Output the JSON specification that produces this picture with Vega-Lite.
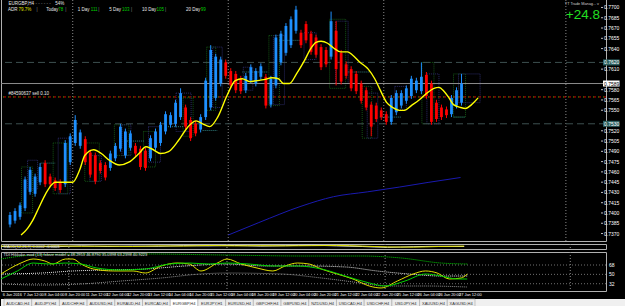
{
"$schema": "https://vega.github.io/schema/vega-lite/v6.json",
"background": "#000000",
"padding": {"top": -4, "left": 0, "right": 0, "bottom": 0},
"spacing": 1,
"config": {
 "view": {"stroke": "#b0b0b0", "strokeWidth": 1},
 "axis": {"grid": false},
 "text": {"font": "Liberation Sans"}
},
"datasets": {
 "candles": [
  {"i":0,"o":0.73832,"h":0.74014,"l":0.73790,"c":0.73972},
  {"i":1,"o":0.73888,"h":0.74070,"l":0.73846,"c":0.74028},
  {"i":2,"o":0.73944,"h":0.74154,"l":0.73902,"c":0.74112},
  {"i":3,"o":0.74070,"h":0.74532,"l":0.74028,"c":0.74490},
  {"i":4,"o":0.74308,"h":0.74672,"l":0.74266,"c":0.74630},
  {"i":5,"o":0.74280,"h":0.74574,"l":0.74238,"c":0.74532},
  {"i":6,"o":0.74448,"h":0.74728,"l":0.74406,"c":0.74672},
  {"i":7,"o":0.74728,"h":0.74770,"l":0.74378,"c":0.74420},
  {"i":8,"o":0.74532,"h":0.74574,"l":0.74378,"c":0.74420},
  {"i":9,"o":0.74476,"h":0.74518,"l":0.74322,"c":0.74364},
  {"i":10,"o":0.74448,"h":0.74490,"l":0.74294,"c":0.74336},
  {"i":11,"o":0.74420,"h":0.75064,"l":0.74378,"c":0.75022},
  {"i":12,"o":0.74742,"h":0.75162,"l":0.74700,"c":0.75120},
  {"i":13,"o":0.75022,"h":0.75428,"l":0.74980,"c":0.75358},
  {"i":14,"o":0.74980,"h":0.75218,"l":0.74938,"c":0.75176},
  {"i":15,"o":0.75078,"h":0.75120,"l":0.74700,"c":0.74742},
  {"i":16,"o":0.74882,"h":0.74924,"l":0.74518,"c":0.74560},
  {"i":17,"o":0.74840,"h":0.74882,"l":0.74420,"c":0.74462},
  {"i":18,"o":0.74728,"h":0.74770,"l":0.74574,"c":0.74616},
  {"i":19,"o":0.74700,"h":0.74742,"l":0.74476,"c":0.74518},
  {"i":20,"o":0.74658,"h":0.74910,"l":0.74616,"c":0.74868},
  {"i":21,"o":0.74798,"h":0.75022,"l":0.74756,"c":0.74980},
  {"i":22,"o":0.74938,"h":0.75302,"l":0.74896,"c":0.75260},
  {"i":23,"o":0.74840,"h":0.75232,"l":0.74798,"c":0.75190},
  {"i":24,"o":0.74952,"h":0.75204,"l":0.74910,"c":0.75162},
  {"i":25,"o":0.74980,"h":0.75022,"l":0.74826,"c":0.74868},
  {"i":26,"o":0.74938,"h":0.74980,"l":0.74630,"c":0.74672},
  {"i":27,"o":0.74910,"h":0.74952,"l":0.74616,"c":0.74658},
  {"i":28,"o":0.74798,"h":0.75134,"l":0.74756,"c":0.75092},
  {"i":29,"o":0.74952,"h":0.75232,"l":0.74910,"c":0.75190},
  {"i":30,"o":0.75022,"h":0.75330,"l":0.74980,"c":0.75288},
  {"i":31,"o":0.75190,"h":0.75484,"l":0.75148,"c":0.75442},
  {"i":32,"o":0.75288,"h":0.75470,"l":0.75246,"c":0.75428},
  {"i":33,"o":0.75302,"h":0.75652,"l":0.75260,"c":0.75610},
  {"i":34,"o":0.75400,"h":0.75820,"l":0.75358,"c":0.75750},
  {"i":35,"o":0.75540,"h":0.75582,"l":0.75218,"c":0.75260},
  {"i":36,"o":0.75358,"h":0.75400,"l":0.75050,"c":0.75092},
  {"i":37,"o":0.75302,"h":0.75344,"l":0.75120,"c":0.75162},
  {"i":38,"o":0.75218,"h":0.75442,"l":0.75176,"c":0.75400},
  {"i":39,"o":0.75400,"h":0.75974,"l":0.75358,"c":0.75932},
  {"i":40,"o":0.75540,"h":0.76450,"l":0.75498,"c":0.76380},
  {"i":41,"o":0.75680,"h":0.76324,"l":0.75638,"c":0.76282},
  {"i":42,"o":0.75890,"h":0.76282,"l":0.75848,"c":0.76240},
  {"i":43,"o":0.76198,"h":0.76240,"l":0.75960,"c":0.76002},
  {"i":44,"o":0.76072,"h":0.76114,"l":0.75820,"c":0.75862},
  {"i":45,"o":0.76030,"h":0.76072,"l":0.75750,"c":0.75792},
  {"i":46,"o":0.75960,"h":0.76002,"l":0.75736,"c":0.75778},
  {"i":47,"o":0.75792,"h":0.76044,"l":0.75750,"c":0.76002},
  {"i":48,"o":0.75932,"h":0.76170,"l":0.75890,"c":0.76128},
  {"i":49,"o":0.75890,"h":0.76114,"l":0.75848,"c":0.76072},
  {"i":50,"o":0.75988,"h":0.76184,"l":0.75946,"c":0.76142},
  {"i":51,"o":0.75988,"h":0.76030,"l":0.75526,"c":0.75568},
  {"i":52,"o":0.75582,"h":0.76002,"l":0.75540,"c":0.75960},
  {"i":53,"o":0.75862,"h":0.76604,"l":0.75820,"c":0.76562},
  {"i":54,"o":0.76198,"h":0.76660,"l":0.76156,"c":0.76618},
  {"i":55,"o":0.76338,"h":0.76772,"l":0.76296,"c":0.76730},
  {"i":56,"o":0.76450,"h":0.76870,"l":0.76408,"c":0.76828},
  {"i":57,"o":0.76660,"h":0.77024,"l":0.76618,"c":0.76968},
  {"i":58,"o":0.76632,"h":0.76674,"l":0.76408,"c":0.76450},
  {"i":59,"o":0.76758,"h":0.76800,"l":0.76478,"c":0.76520},
  {"i":60,"o":0.76618,"h":0.76660,"l":0.76310,"c":0.76352},
  {"i":61,"o":0.76562,"h":0.76604,"l":0.76268,"c":0.76310},
  {"i":62,"o":0.76422,"h":0.76464,"l":0.76086,"c":0.76128},
  {"i":63,"o":0.76380,"h":0.76422,"l":0.76128,"c":0.76170},
  {"i":64,"o":0.76282,"h":0.76940,"l":0.76240,"c":0.76800},
  {"i":65,"o":0.76660,"h":0.76800,"l":0.75862,"c":0.76100},
  {"i":66,"o":0.76338,"h":0.76380,"l":0.75876,"c":0.75918},
  {"i":67,"o":0.76170,"h":0.76212,"l":0.75960,"c":0.76002},
  {"i":68,"o":0.76100,"h":0.76142,"l":0.75778,"c":0.75820},
  {"i":69,"o":0.76030,"h":0.76072,"l":0.75736,"c":0.75778},
  {"i":70,"o":0.75890,"h":0.75932,"l":0.75596,"c":0.75638},
  {"i":71,"o":0.75792,"h":0.75834,"l":0.75498,"c":0.75540},
  {"i":72,"o":0.75582,"h":0.75624,"l":0.75120,"c":0.75260},
  {"i":73,"o":0.75568,"h":0.75610,"l":0.75330,"c":0.75372},
  {"i":74,"o":0.75498,"h":0.75540,"l":0.75358,"c":0.75400},
  {"i":75,"o":0.75442,"h":0.75484,"l":0.75288,"c":0.75330},
  {"i":76,"o":0.75330,"h":0.75722,"l":0.75288,"c":0.75680},
  {"i":77,"o":0.75470,"h":0.75792,"l":0.75428,"c":0.75750},
  {"i":78,"o":0.75568,"h":0.75792,"l":0.75526,"c":0.75750},
  {"i":79,"o":0.75638,"h":0.75862,"l":0.75596,"c":0.75820},
  {"i":80,"o":0.75708,"h":0.76002,"l":0.75666,"c":0.75960},
  {"i":81,"o":0.75792,"h":0.75974,"l":0.75750,"c":0.75932},
  {"i":82,"o":0.75778,"h":0.76198,"l":0.75736,"c":0.75988},
  {"i":83,"o":0.76016,"h":0.76058,"l":0.75666,"c":0.75708},
  {"i":84,"o":0.75890,"h":0.75932,"l":0.75288,"c":0.75330},
  {"i":85,"o":0.75610,"h":0.75652,"l":0.75330,"c":0.75372},
  {"i":86,"o":0.75540,"h":0.75582,"l":0.75358,"c":0.75400},
  {"i":87,"o":0.75512,"h":0.75554,"l":0.75386,"c":0.75428},
  {"i":88,"o":0.75442,"h":0.75722,"l":0.75400,"c":0.75680},
  {"i":89,"o":0.75568,"h":0.75834,"l":0.75526,"c":0.75792},
  {"i":90,"o":0.75610,"h":0.76030,"l":0.75568,"c":0.75890}
 ],
 "ma": [
  {"i":2.2,"p":0.73678},{"i":3.5,"p":0.73776},{"i":4.5,"p":0.73888},{"i":5.7,"p":0.74070},{"i":7.1,"p":0.74280},
  {"i":8.4,"p":0.74420},{"i":9.0,"p":0.74448},{"i":12.5,"p":0.74448},{"i":13.9,"p":0.74630},{"i":14.9,"p":0.74840},
  {"i":16.7,"p":0.74924},{"i":18.2,"p":0.74868},{"i":19.8,"p":0.74770},{"i":21.8,"p":0.74700},{"i":23.7,"p":0.74742},
  {"i":25.7,"p":0.74868},{"i":27.1,"p":0.74966},{"i":28.2,"p":0.74938},{"i":30.0,"p":0.74868},{"i":31.6,"p":0.74896},
  {"i":33.5,"p":0.75050},{"i":35.5,"p":0.75260},{"i":37.1,"p":0.75344},{"i":38.4,"p":0.75302},{"i":39.8,"p":0.75260},
  {"i":41.4,"p":0.75400},{"i":43.3,"p":0.75722},{"i":44.9,"p":0.75932},{"i":46.3,"p":0.75960},{"i":47.8,"p":0.75918},
  {"i":49.2,"p":0.75932},{"i":50.6,"p":0.75946},{"i":52.2,"p":0.75974},{"i":53.5,"p":0.75960},{"i":54.5,"p":0.75890},
  {"i":55.7,"p":0.75890},{"i":57.1,"p":0.76030},{"i":58.6,"p":0.76212},{"i":60.0,"p":0.76408},{"i":61.0,"p":0.76492},
  {"i":62.0,"p":0.76506},{"i":63.3,"p":0.76478},{"i":64.5,"p":0.76408},{"i":65.9,"p":0.76352},{"i":67.3,"p":0.76352},
  {"i":68.2,"p":0.76310},{"i":69.8,"p":0.76198},{"i":71.4,"p":0.76100},{"i":72.7,"p":0.75960},{"i":73.9,"p":0.75778},
  {"i":75.1,"p":0.75610},{"i":76.3,"p":0.75540},{"i":77.6,"p":0.75498},{"i":78.6,"p":0.75498},{"i":80.0,"p":0.75568},
  {"i":81.6,"p":0.75652},{"i":83.1,"p":0.75750},{"i":84.5,"p":0.75820},{"i":85.5,"p":0.75834},{"i":86.5,"p":0.75778},
  {"i":87.5,"p":0.75680},{"i":88.4,"p":0.75582},{"i":89.8,"p":0.75540},{"i":90.8,"p":0.75526},{"i":92.0,"p":0.75582},
  {"i":93.3,"p":0.75680}
 ],
 "slow": [
  {"i":43.5,"p":0.73678},{"i":49.6,"p":0.73860},{"i":58.0,"p":0.74098},{"i":64.5,"p":0.74238},
  {"i":71.2,"p":0.74308},{"i":77.6,"p":0.74378},{"i":83.5,"p":0.74448},{"i":89.8,"p":0.74518}
 ],
 "boxes": [
  {"i1":2.3,"i2":4.5,"p1":0.74672,"p2":0.74000,"k":"g"},
  {"i1":3.5,"i2":5.5,"p1":0.74770,"p2":0.74350,"k":"n"},
  {"i1":8.6,"i2":11.5,"p1":0.75022,"p2":0.74280,"k":"g"},
  {"i1":9.6,"i2":12.0,"p1":0.75092,"p2":0.74280,"k":"n"},
  {"i1":14.9,"i2":17.8,"p1":0.75022,"p2":0.74462,"k":"g"},
  {"i1":15.9,"i2":18.2,"p1":0.74840,"p2":0.74462,"k":"n"},
  {"i1":20.8,"i2":23.7,"p1":0.75288,"p2":0.74840,"k":"g"},
  {"i1":22.3,"i2":24.1,"p1":0.75288,"p2":0.74840,"k":"n"},
  {"i1":26.6,"i2":29.0,"p1":0.75190,"p2":0.74672,"k":"g"},
  {"i1":27.6,"i2":30.0,"p1":0.75260,"p2":0.74742,"k":"n"},
  {"i1":33.1,"i2":36.1,"p1":0.75750,"p2":0.75190,"k":"n"},
  {"i1":34.5,"i2":36.5,"p1":0.75680,"p2":0.75120,"k":"g"},
  {"i1":39.2,"i2":41.0,"p1":0.76422,"p2":0.75498,"k":"g"},
  {"i1":40.4,"i2":42.3,"p1":0.76422,"p2":0.75540,"k":"n"},
  {"i1":46.5,"i2":48.4,"p1":0.76128,"p2":0.75792,"k":"n"},
  {"i1":51.6,"i2":53.7,"p1":0.76590,"p2":0.75568,"k":"g"},
  {"i1":52.5,"i2":54.7,"p1":0.76590,"p2":0.75582,"k":"n"},
  {"i1":58.6,"i2":61.0,"p1":0.76632,"p2":0.76240,"k":"n"},
  {"i1":63.7,"i2":66.9,"p1":0.76828,"p2":0.75820,"k":"g"},
  {"i1":64.9,"i2":67.4,"p1":0.76800,"p2":0.75890,"k":"n"},
  {"i1":70.2,"i2":72.1,"p1":0.75848,"p2":0.75092,"k":"g"},
  {"i1":71.2,"i2":73.3,"p1":0.75750,"p2":0.75092,"k":"n"},
  {"i1":76.7,"i2":79.0,"p1":0.75848,"p2":0.75512,"k":"n"},
  {"i1":82.1,"i2":84.5,"p1":0.76198,"p2":0.75302,"k":"g"},
  {"i1":83.1,"i2":85.5,"p1":0.76030,"p2":0.75302,"k":"n"},
  {"i1":88.4,"i2":90.8,"p1":0.76030,"p2":0.75400,"k":"g"},
  {"i1":89.4,"i2":93.7,"p1":0.76030,"p2":0.75610,"k":"n"}
 ],
 "segs": [
  {"i1":6.1,"i2":9.0,"p":0.74728},{"i1":23.3,"i2":26.7,"p":0.75050},{"i1":31.5,"i2":34.5,"p":0.75260},
  {"i1":38.4,"i2":41.3,"p":0.75204},{"i1":46.3,"i2":51.5,"p":0.76058},{"i1":53.7,"i2":58.0,"p":0.76520},
  {"i1":66.9,"i2":71.8,"p":0.76058},{"i1":73.7,"i2":78.0,"p":0.75400},{"i1":88.4,"i2":90.8,"p":0.75400}
 ],
 "seps": [{"i":12.5},{"i":43.5},{"i":74.5},{"i":110.8}],
 "yticks": [
  {"p":0.7700,"t":"0.7700"},{"p":0.7685,"t":"0.7685"},{"p":0.7670,"t":"0.7670"},{"p":0.7655,"t":"0.7655"},
  {"p":0.7640,"t":"0.7640"},{"p":0.7610,"t":"0.7610"},
  {"p":0.7580,"t":"0.7580"},{"p":0.7565,"t":"0.7565"},{"p":0.7550,"t":"0.7550"},
  {"p":0.7520,"t":"0.7520"},{"p":0.7505,"t":"0.7505"},{"p":0.7490,"t":"0.7490"},{"p":0.7475,"t":"0.7475"},
  {"p":0.7460,"t":"0.7460"},{"p":0.7445,"t":"0.7445"},{"p":0.7430,"t":"0.7430"},{"p":0.7415,"t":"0.7415"},
  {"p":0.7400,"t":"0.7400"},{"p":0.7385,"t":"0.7385"},{"p":0.7370,"t":"0.7370"}
 ],
 "xticks": [
  {"i":-0.47,"t":"6 Jan 2016"},{"i":3.6,"t":"7 Jan 12:00"},{"i":7.66,"t":"8 Jan 04:00"},{"i":11.73,"t":"8 Jan 20:00"},
  {"i":15.8,"t":"11 Jan 12:00"},{"i":19.87,"t":"12 Jan 04:00"},{"i":23.93,"t":"12 Jan 20:00"},{"i":28.0,"t":"13 Jan 12:00"},
  {"i":32.07,"t":"14 Jan 04:00"},{"i":36.13,"t":"14 Jan 20:00"},{"i":40.2,"t":"15 Jan 12:00"},{"i":44.27,"t":"18 Jan 04:00"},
  {"i":48.33,"t":"18 Jan 20:00"},{"i":52.4,"t":"19 Jan 12:00"},{"i":56.47,"t":"20 Jan 04:00"},{"i":60.54,"t":"20 Jan 20:00"},
  {"i":64.6,"t":"21 Jan 12:00"},{"i":68.67,"t":"22 Jan 04:00"},{"i":72.74,"t":"22 Jan 20:00"},{"i":76.8,"t":"25 Jan 12:00"},
  {"i":80.87,"t":"26 Jan 04:00"},{"i":84.94,"t":"26 Jan 20:00"},{"i":89.0,"t":"27 Jan 12:00"}
 ],
 "hdr": [
  {"i":-0.3,"p":0.77045,"t":"EURGBP,H4","k":"w"},
  {"i":5.1,"p":0.77045,"t":"- - - - - -","k":"d"},
  {"i":9.0,"p":0.77045,"t":"54%","k":"w"},
  {"i":-0.4,"p":0.76961,"t":"ADR","k":"w"},
  {"i":1.7,"p":0.76961,"t":"79.7%","k":"y"},
  {"i":5.3,"p":0.76961,"t":"|","k":"d"},
  {"i":7.2,"p":0.76961,"t":"Today","k":"w"},
  {"i":9.6,"p":0.76961,"t":"78","k":"g"},
  {"i":11.0,"p":0.76961,"t":"|","k":"d"},
  {"i":13.5,"p":0.76961,"t":"1 Day","k":"w"},
  {"i":16.1,"p":0.76961,"t":"111","k":"g"},
  {"i":17.6,"p":0.76961,"t":"|","k":"d"},
  {"i":19.8,"p":0.76961,"t":"5 Day","k":"w"},
  {"i":22.3,"p":0.76961,"t":"103","k":"g"},
  {"i":24.1,"p":0.76961,"t":"|","k":"d"},
  {"i":26.3,"p":0.76961,"t":"10 Day","k":"w"},
  {"i":29.2,"p":0.76961,"t":"105","k":"g"},
  {"i":30.9,"p":0.76961,"t":"|","k":"d"},
  {"i":35.1,"p":0.76961,"t":"20 Day","k":"w"},
  {"i":38.0,"p":0.76961,"t":"99","k":"g"},
  {"i":-0.3,"p":0.75736,"t":"#84590637 sell 0.10","k":"w"}
 ],
 "tags": [
  {"p":0.76198,"t":"0.7620","k":"lvl"},
  {"p":0.75890,"t":"0.7589","k":"bid"},
  {"p":0.75302,"t":"0.7530","k":"lvl"}
 ],
 "macd": [
  {"i":-0.8,"v":0.2,"s":"a"},{"i":5,"v":0.4,"s":"a"},{"i":10,"v":0.1,"s":"a"},{"i":15,"v":0.5,"s":"a"},{"i":20,"v":0.2,"s":"a"},
  {"i":25,"v":0.4,"s":"a"},{"i":30,"v":0.3,"s":"a"},{"i":35,"v":0.6,"s":"a"},{"i":40,"v":0.5,"s":"a"},{"i":45,"v":0.7,"s":"a"},
  {"i":50,"v":0.4,"s":"a"},{"i":55,"v":0.6,"s":"a"},{"i":60,"v":0.8,"s":"a"},{"i":65,"v":0.5,"s":"a"},{"i":70,"v":0.2,"s":"a"},
  {"i":75,"v":-0.2,"s":"a"},{"i":80,"v":0.1,"s":"a"},{"i":85,"v":0.3,"s":"a"},{"i":90,"v":0.2,"s":"a"},
  {"i":-0.8,"v":0.4,"s":"b"},{"i":5,"v":0.2,"s":"b"},{"i":10,"v":0.5,"s":"b"},{"i":15,"v":0.3,"s":"b"},{"i":20,"v":0.4,"s":"b"},
  {"i":25,"v":0.2,"s":"b"},{"i":30,"v":0.5,"s":"b"},{"i":35,"v":0.4,"s":"b"},{"i":40,"v":0.7,"s":"b"},{"i":45,"v":0.5,"s":"b"},
  {"i":50,"v":0.6,"s":"b"},{"i":55,"v":0.5,"s":"b"},{"i":60,"v":0.6,"s":"b"},{"i":65,"v":0.7,"s":"b"},{"i":70,"v":0.4,"s":"b"},
  {"i":75,"v":0.0,"s":"b"},{"i":80,"v":-0.1,"s":"b"},{"i":85,"v":0.2,"s":"b"},{"i":90,"v":0.4,"s":"b"}
 ],
 "tdi": [
  {"i":-0.8,"v":50.7,"s":"rsi"},{"i":3.1,"v":71.8,"s":"rsi"},{"i":5.5,"v":79.5,"s":"rsi"},{"i":7.8,"v":75.7,"s":"rsi"},
  {"i":9.4,"v":69.9,"s":"rsi"},{"i":11.8,"v":79.5,"s":"rsi"},{"i":13.3,"v":79.5,"s":"rsi"},{"i":14.9,"v":69.9,"s":"rsi"},
  {"i":17.3,"v":60.3,"s":"rsi"},{"i":21.2,"v":56.5,"s":"rsi"},{"i":25.1,"v":56.5,"s":"rsi"},{"i":27.5,"v":52.6,"s":"rsi"},
  {"i":30.6,"v":66.1,"s":"rsi"},{"i":33.7,"v":71.8,"s":"rsi"},{"i":36.1,"v":69.9,"s":"rsi"},{"i":38.4,"v":56.5,"s":"rsi"},
  {"i":41.6,"v":71.8,"s":"rsi"},{"i":43.5,"v":79.5,"s":"rsi"},{"i":46.3,"v":69.9,"s":"rsi"},{"i":49.4,"v":62.2,"s":"rsi"},
  {"i":52.5,"v":56.5,"s":"rsi"},{"i":54.9,"v":66.1,"s":"rsi"},{"i":57.3,"v":71.8,"s":"rsi"},{"i":59.6,"v":69.9,"s":"rsi"},
  {"i":62.0,"v":60.3,"s":"rsi"},{"i":65.1,"v":50.7,"s":"rsi"},{"i":68.2,"v":41.1,"s":"rsi"},{"i":71.4,"v":27.6,"s":"rsi"},
  {"i":73.7,"v":23.8,"s":"rsi"},{"i":76.9,"v":37.2,"s":"rsi"},{"i":80.0,"v":50.7,"s":"rsi"},{"i":82.4,"v":56.5,"s":"rsi"},
  {"i":84.7,"v":52.6,"s":"rsi"},{"i":87.1,"v":41.1,"s":"rsi"},{"i":89.4,"v":43.0,"s":"rsi"},{"i":90.6,"v":50.7,"s":"rsi"},
  {"i":-0.8,"v":41.1,"s":"sig"},{"i":2.4,"v":56.5,"s":"sig"},{"i":5.5,"v":71.8,"s":"sig"},{"i":8.6,"v":69.9,"s":"sig"},
  {"i":11.8,"v":71.8,"s":"sig"},{"i":14.9,"v":69.9,"s":"sig"},{"i":18.0,"v":62.2,"s":"sig"},{"i":22.7,"v":58.4,"s":"sig"},
  {"i":27.5,"v":60.3,"s":"sig"},{"i":32.2,"v":69.9,"s":"sig"},{"i":36.1,"v":71.8,"s":"sig"},{"i":40.0,"v":69.9,"s":"sig"},
  {"i":43.5,"v":71.8,"s":"sig"},{"i":47.8,"v":69.9,"s":"sig"},{"i":52.5,"v":66.1,"s":"sig"},{"i":57.3,"v":66.1,"s":"sig"},
  {"i":62.0,"v":60.3,"s":"sig"},{"i":66.7,"v":46.8,"s":"sig"},{"i":71.4,"v":33.4,"s":"sig"},{"i":74.5,"v":27.6,"s":"sig"},
  {"i":78.4,"v":37.2,"s":"sig"},{"i":82.4,"v":50.7,"s":"sig"},{"i":85.5,"v":46.8,"s":"sig"},{"i":88.6,"v":41.1,"s":"sig"},
  {"i":90.6,"v":41.1,"s":"sig"},
  {"i":-0.8,"v":50.7,"s":"base"},{"i":7.1,"v":52.6,"s":"base"},{"i":13.3,"v":56.5,"s":"base"},{"i":19.6,"v":58.4,"s":"base"},
  {"i":27.5,"v":60.3,"s":"base"},{"i":35.3,"v":66.1,"s":"base"},{"i":43.1,"v":69.9,"s":"base"},{"i":51.0,"v":66.1,"s":"base"},
  {"i":58.8,"v":66.1,"s":"base"},{"i":66.7,"v":64.2,"s":"base"},{"i":72.9,"v":56.5,"s":"base"},{"i":79.2,"v":50.7,"s":"base"},
  {"i":85.5,"v":46.8,"s":"base"},{"i":90.6,"v":46.8,"s":"base"},
  {"i":-0.8,"v":79.5,"s":"up"},{"i":5.5,"v":87.2,"s":"up"},{"i":14.9,"v":89.2,"s":"up"},{"i":27.5,"v":89.2,"s":"up"},
  {"i":43.1,"v":87.2,"s":"up"},{"i":58.8,"v":85.3,"s":"up"},{"i":69.8,"v":85.3,"s":"up"},{"i":77.6,"v":81.5,"s":"up"},
  {"i":85.5,"v":71.8,"s":"up"},{"i":90.6,"v":69.9,"s":"up"},
  {"i":-0.8,"v":31.5,"s":"lo"},{"i":7.1,"v":29.5,"s":"lo"},{"i":14.9,"v":31.5,"s":"lo"},{"i":22.7,"v":37.2,"s":"lo"},
  {"i":30.6,"v":43.0,"s":"lo"},{"i":38.4,"v":50.7,"s":"lo"},{"i":43.5,"v":52.6,"s":"lo"},{"i":54.1,"v":50.7,"s":"lo"},
  {"i":62.0,"v":43.0,"s":"lo"},{"i":69.8,"v":33.4,"s":"lo"},{"i":74.5,"v":27.6,"s":"lo"},{"i":82.4,"v":27.6,"s":"lo"},
  {"i":90.6,"v":25.7,"s":"lo"}
 ],
 "tabs": [
  {"name":"AUDCAD,H4"},{"name":"AUDJPY,H4"},{"name":"AUDCHF,H4"},{"name":"AUDUSD,H4"},{"name":"EURAUD,H4"},
  {"name":"EURCAD,H4"},{"name":"EURGBP,H4"},{"name":"EURJPY,H1"},{"name":"EURUSD,H4"},{"name":"GBPCHF,H4"},
  {"name":"GBPUSD,H4"},{"name":"NZDUSD,H4"},{"name":"USDCAD,H4"},{"name":"USDCHF,H4"},{"name":"USDJPY,H4"},
  {"name":"XAUUSD,H4"},{"name":"XAGUSD,H4"}
 ]
},
"vconcat": [
 {
  "width": 605,
  "height": 244,
  "layer": [
   {
    "data": {"name": "boxes"},
    "mark": {"type": "rect", "filled": false, "strokeDash": [1, 1], "strokeWidth": 1, "clip": true},
    "encoding": {
     "x": {"field": "i1", "type": "quantitative", "scale": {"domain": [-0.8, 117.8], "nice": false, "zero": false}, "axis": null},
     "x2": {"field": "i2"},
     "y": {"field": "p1", "type": "quantitative", "scale": {"domain": [0.73664, 0.7708], "nice": false, "zero": false}, "axis": null},
     "y2": {"field": "p2"},
     "stroke": {"field": "k", "type": "nominal", "scale": {"domain": ["g", "n"], "range": ["#145214", "#2a2a66"]}, "legend": null}
    }
   },
   {
    "data": {"name": "segs"},
    "mark": {"type": "rule", "color": "#2e7a7a", "strokeDash": [1, 1], "strokeWidth": 1},
    "encoding": {
     "x": {"field": "i1", "type": "quantitative", "scale": {"domain": [-0.8, 117.8], "nice": false, "zero": false}, "axis": null},
     "x2": {"field": "i2"},
     "y": {"field": "p", "type": "quantitative", "scale": {"domain": [0.73664, 0.7708], "nice": false, "zero": false}, "axis": null}
    }
   },
   {
    "data": {"name": "seps"},
    "mark": {"type": "rule", "color": "#8a8a8a", "strokeDash": [1, 2], "strokeWidth": 1},
    "encoding": {
     "x": {"field": "i", "type": "quantitative", "scale": {"domain": [-0.8, 117.8], "nice": false, "zero": false}, "axis": null}
    }
   },
   {
    "data": {"values": [{"p": 0.76198}, {"p": 0.75302}]},
    "mark": {"type": "rule", "color": "#3d5050", "strokeDash": [7, 4], "strokeWidth": 1},
    "encoding": {
     "y": {"field": "p", "type": "quantitative", "scale": {"domain": [0.73664, 0.7708], "nice": false, "zero": false}, "axis": null}
    }
   },
   {
    "data": {"values": [{"p": 0.75890}]},
    "mark": {"type": "rule", "color": "#8c8c8c", "strokeWidth": 1},
    "encoding": {
     "y": {"field": "p", "type": "quantitative", "scale": {"domain": [0.73664, 0.7708], "nice": false, "zero": false}, "axis": null}
    }
   },
   {
    "data": {"values": [{"p": 0.75694}]},
    "mark": {"type": "rule", "color": "#d00000", "strokeDash": [3, 2], "strokeWidth": 1},
    "encoding": {
     "y": {"field": "p", "type": "quantitative", "scale": {"domain": [0.73664, 0.7708], "nice": false, "zero": false}, "axis": null}
    }
   },
   {
    "data": {"values": [{"p": 0.75694}]},
    "mark": {"type": "rule", "color": "#00a000", "strokeDash": [1, 4], "strokeDashOffset": 3, "strokeWidth": 1},
    "encoding": {
     "y": {"field": "p", "type": "quantitative", "scale": {"domain": [0.73664, 0.7708], "nice": false, "zero": false}, "axis": null}
    }
   },
   {
    "data": {"name": "slow"},
    "mark": {"type": "line", "color": "#1a1ab0", "strokeWidth": 1, "clip": true, "interpolate": "monotone"},
    "encoding": {
     "x": {"field": "i", "type": "quantitative", "scale": {"domain": [-0.8, 117.8], "nice": false, "zero": false}, "axis": null},
     "y": {"field": "p", "type": "quantitative", "scale": {"domain": [0.73664, 0.7708], "nice": false, "zero": false}, "axis": null}
    }
   },
   {
    "data": {"name": "candles"},
    "mark": {"type": "rule", "strokeWidth": 1},
    "encoding": {
     "x": {"field": "i", "type": "quantitative", "scale": {"domain": [-0.8, 117.8], "nice": false, "zero": false}, "axis": null},
     "y": {"field": "l", "type": "quantitative", "scale": {"domain": [0.73664, 0.7708], "nice": false, "zero": false}, "axis": null},
     "y2": {"field": "h"},
     "color": {"condition": {"test": "datum.c >= datum.o", "value": "#1e90ff"}, "value": "#ff0000"}
    }
   },
   {
    "data": {"name": "candles"},
    "mark": {"type": "bar", "size": 2.8},
    "encoding": {
     "x": {"field": "i", "type": "quantitative", "scale": {"domain": [-0.8, 117.8], "nice": false, "zero": false}, "axis": null},
     "y": {"field": "o", "type": "quantitative", "scale": {"domain": [0.73664, 0.7708], "nice": false, "zero": false}, "axis": null},
     "y2": {"field": "c"},
     "color": {"condition": {"test": "datum.c >= datum.o", "value": "#1e90ff"}, "value": "#ff0000"}
    }
   },
   {
    "data": {"name": "ma"},
    "mark": {"type": "line", "color": "#ffff00", "strokeWidth": 1.4, "clip": true, "interpolate": "monotone"},
    "encoding": {
     "x": {"field": "i", "type": "quantitative", "scale": {"domain": [-0.8, 117.8], "nice": false, "zero": false}, "axis": null},
     "y": {"field": "p", "type": "quantitative", "scale": {"domain": [0.73664, 0.7708], "nice": false, "zero": false}, "axis": null}
    }
   },
   {
    "data": {"name": "hdr"},
    "mark": {"type": "text", "align": "left", "baseline": "middle", "fontSize": 4.5},
    "encoding": {
     "x": {"field": "i", "type": "quantitative", "scale": {"domain": [-0.8, 117.8], "nice": false, "zero": false}, "axis": null},
     "y": {"field": "p", "type": "quantitative", "scale": {"domain": [0.73664, 0.7708], "nice": false, "zero": false}, "axis": null},
     "text": {"field": "t"},
     "color": {"field": "k", "type": "nominal", "scale": {"domain": ["w", "y", "g", "d"], "range": ["#e8e8e8", "#e0e000", "#00d000", "#909090"]}, "legend": null}
    }
   },
   {
    "data": {"values": [{"i": 117.6, "p": 0.76891, "t": "+24.8"}]},
    "mark": {"type": "text", "align": "right", "baseline": "middle", "fontSize": 13.5, "color": "#22e022"},
    "encoding": {
     "x": {"field": "i", "type": "quantitative", "scale": {"domain": [-0.8, 117.8], "nice": false, "zero": false}, "axis": null},
     "y": {"field": "p", "type": "quantitative", "scale": {"domain": [0.73664, 0.7708], "nice": false, "zero": false}, "axis": null},
     "text": {"field": "t"}
    }
   },
   {
    "data": {"values": [{"i": 117.4, "p": 0.77045, "t": "TT Trade Manag... v"}]},
    "mark": {"type": "text", "align": "right", "baseline": "middle", "fontSize": 3.8, "color": "#d0d0d0"},
    "encoding": {
     "x": {"field": "i", "type": "quantitative", "scale": {"domain": [-0.8, 117.8], "nice": false, "zero": false}, "axis": null},
     "y": {"field": "p", "type": "quantitative", "scale": {"domain": [0.73664, 0.7708], "nice": false, "zero": false}, "axis": null},
     "text": {"field": "t"}
    }
   },
   {
    "data": {"name": "yticks"},
    "mark": {"type": "rule", "color": "#c0c0c0", "strokeWidth": 1},
    "encoding": {
     "x": {"datum": 117.8, "type": "quantitative", "scale": {"domain": [-0.8, 117.8], "nice": false, "zero": false}, "axis": null},
     "x2": {"datum": 118.2},
     "y": {"field": "p", "type": "quantitative", "scale": {"domain": [0.73664, 0.7708], "nice": false, "zero": false}, "axis": null}
    }
   },
   {
    "data": {"name": "yticks"},
    "mark": {"type": "text", "align": "left", "baseline": "middle", "fontSize": 5, "color": "#ffffff"},
    "encoding": {
     "x": {"datum": 118.4, "type": "quantitative", "scale": {"domain": [-0.8, 117.8], "nice": false, "zero": false}, "axis": null},
     "y": {"field": "p", "type": "quantitative", "scale": {"domain": [0.73664, 0.7708], "nice": false, "zero": false}, "axis": null},
     "text": {"field": "t"}
    }
   },
   {
    "data": {"name": "tags"},
    "mark": {"type": "bar", "size": 6},
    "encoding": {
     "x": {"datum": 118.2, "type": "quantitative", "scale": {"domain": [-0.8, 117.8], "nice": false, "zero": false}, "axis": null},
     "x2": {"datum": 121.5},
     "y": {"field": "p", "type": "quantitative", "scale": {"domain": [0.73664, 0.7708], "nice": false, "zero": false}, "axis": null},
     "color": {"condition": {"test": "datum.k === 'bid'", "value": "#ffffff"}, "value": "#2f6262"}
    }
   },
   {
    "data": {"name": "tags"},
    "mark": {"type": "text", "align": "left", "baseline": "middle", "fontSize": 5},
    "encoding": {
     "x": {"datum": 118.4, "type": "quantitative", "scale": {"domain": [-0.8, 117.8], "nice": false, "zero": false}, "axis": null},
     "y": {"field": "p", "type": "quantitative", "scale": {"domain": [0.73664, 0.7708], "nice": false, "zero": false}, "axis": null},
     "text": {"field": "t"},
     "color": {"condition": {"test": "datum.k === 'bid'", "value": "#000000"}, "value": "#ffffff"}
    }
   }
  ]
 },
 {
  "width": 605,
  "height": 5,
  "layer": [
   {
    "data": {"name": "seps"},
    "mark": {"type": "rule", "color": "#8a8a8a", "strokeDash": [1, 2], "strokeWidth": 1},
    "encoding": {
     "x": {"field": "i", "type": "quantitative", "scale": {"domain": [-0.8, 117.8], "nice": false, "zero": false}, "axis": null}
    }
   },
   {
    "data": {"name": "macd"},
    "mark": {"type": "line", "strokeWidth": 1, "interpolate": "monotone", "clip": true},
    "encoding": {
     "x": {"field": "i", "type": "quantitative", "scale": {"domain": [-0.8, 117.8], "nice": false, "zero": false}, "axis": null},
     "y": {"field": "v", "type": "quantitative", "scale": {"domain": [-1, 1.4], "nice": false, "zero": false}, "axis": null},
     "color": {"field": "s", "type": "nominal", "scale": {"domain": ["a", "b"], "range": ["#1fa5a5", "#b01010"]}, "legend": null}
    }
   },
   {
    "data": {"values": [{"i": -0.3, "v": 0.2, "t": "MACD(12,26,9) 0.0002 -0.0003"}]},
    "mark": {"type": "text", "align": "left", "baseline": "middle", "fontSize": 4, "color": "#e8e8e8"},
    "encoding": {
     "x": {"field": "i", "type": "quantitative", "scale": {"domain": [-0.8, 117.8], "nice": false, "zero": false}, "axis": null},
     "y": {"field": "v", "type": "quantitative", "scale": {"domain": [-1, 1.4], "nice": false, "zero": false}, "axis": null},
     "text": {"field": "t"}
    }
   }
  ]
 },
 {
  "width": 605,
  "height": 39,
  "layer": [
   {
    "data": {"values": [{"v": 68}, {"v": 50}, {"v": 32}]},
    "mark": {"type": "rule", "color": "#707070", "strokeDash": [1, 2], "strokeWidth": 1},
    "encoding": {
     "y": {"field": "v", "type": "quantitative", "scale": {"domain": [18, 93], "nice": false, "zero": false}, "axis": null}
    }
   },
   {
    "data": {"values": [{"v": 68, "t": "68"}, {"v": 50, "t": "50"}, {"v": 32, "t": "32"}]},
    "mark": {"type": "text", "align": "left", "baseline": "middle", "fontSize": 5, "color": "#ffffff"},
    "encoding": {
     "x": {"datum": 118.4, "type": "quantitative", "scale": {"domain": [-0.8, 117.8], "nice": false, "zero": false}, "axis": null},
     "y": {"field": "v", "type": "quantitative", "scale": {"domain": [18, 93], "nice": false, "zero": false}, "axis": null},
     "text": {"field": "t"}
    }
   },
   {
    "data": {"name": "seps"},
    "mark": {"type": "rule", "color": "#8a8a8a", "strokeDash": [1, 2], "strokeWidth": 1},
    "encoding": {
     "x": {"field": "i", "type": "quantitative", "scale": {"domain": [-0.8, 117.8], "nice": false, "zero": false}, "axis": null}
    }
   },
   {
    "data": {"name": "tdi"},
    "transform": [{"filter": "datum.s === 'up' || datum.s === 'lo' || datum.s === 'base'"}],
    "mark": {"type": "line", "strokeWidth": 1, "strokeDash": [1, 1], "interpolate": "monotone", "clip": true},
    "encoding": {
     "x": {"field": "i", "type": "quantitative", "scale": {"domain": [-0.8, 117.8], "nice": false, "zero": false}, "axis": null},
     "y": {"field": "v", "type": "quantitative", "scale": {"domain": [18, 93], "nice": false, "zero": false}, "axis": null},
     "color": {"field": "s", "type": "nominal", "scale": {"domain": ["up", "lo", "base", "rsi", "sig"], "range": ["#3038c8", "#3038c8", "#c8c800", "#10a010", "#c00000"]}, "legend": null}
    }
   },
   {
    "data": {"name": "tdi"},
    "transform": [{"filter": "datum.s === 'sig' || datum.s === 'rsi'"}],
    "mark": {"type": "line", "strokeWidth": 1, "interpolate": "monotone", "clip": true},
    "encoding": {
     "x": {"field": "i", "type": "quantitative", "scale": {"domain": [-0.8, 117.8], "nice": false, "zero": false}, "axis": null},
     "y": {"field": "v", "type": "quantitative", "scale": {"domain": [18, 93], "nice": false, "zero": false}, "axis": null},
     "color": {"field": "s", "type": "nominal", "scale": {"domain": ["up", "lo", "base", "rsi", "sig"], "range": ["#3038c8", "#3038c8", "#c8c800", "#10a010", "#c00000"]}, "legend": null}
    }
   },
   {
    "data": {"values": [{"i": -0.3, "v": 87, "t": "TDI Hikkake mod (13) fxlove model = 48.2953 46.8790 35.0398 63.2398 40.9223"}]},
    "mark": {"type": "text", "align": "left", "baseline": "middle", "fontSize": 4, "color": "#e8e8e8"},
    "encoding": {
     "x": {"field": "i", "type": "quantitative", "scale": {"domain": [-0.8, 117.8], "nice": false, "zero": false}, "axis": null},
     "y": {"field": "v", "type": "quantitative", "scale": {"domain": [18, 93], "nice": false, "zero": false}, "axis": null},
     "text": {"field": "t"}
    }
   },
   {
    "data": {"name": "xticks"},
    "mark": {"type": "text", "align": "left", "baseline": "top", "fontSize": 3.9, "color": "#ffffff", "dy": 1.5},
    "encoding": {
     "x": {"field": "i", "type": "quantitative", "scale": {"domain": [-0.8, 117.8], "nice": false, "zero": false}, "axis": null},
     "y": {"datum": 18, "type": "quantitative", "scale": {"domain": [18, 93], "nice": false, "zero": false}, "axis": null},
     "text": {"field": "t"}
    }
   }
  ]
 },
 {
  "width": 625,
  "height": 9,
  "view": {"fill": "#f0f0f0", "stroke": null},
  "data": {"name": "tabs"},
  "layer": [
   {
    "mark": {"type": "rect", "stroke": "#a8a8a8", "strokeWidth": 0.6},
    "encoding": {
     "x": {"field": "name", "type": "nominal", "sort": null, "axis": null,
      "scale": {"domain": ["AUDCAD,H4","AUDJPY,H4","AUDCHF,H4","AUDUSD,H4","EURAUD,H4","EURCAD,H4","EURGBP,H4","EURJPY,H1","EURUSD,H4","GBPCHF,H4","GBPUSD,H4","NZDUSD,H4","USDCAD,H4","USDCHF,H4","USDJPY,H4","XAUUSD,H4","XAGUSD,H4"], "range": [3, 474], "paddingInner": 0, "paddingOuter": 0}},
     "color": {"condition": {"test": "datum.name === 'EURGBP,H4'", "value": "#ffffff"}, "value": "#ececec"}
    }
   },
   {
    "mark": {"type": "text", "fontSize": 4, "color": "#303030", "baseline": "middle"},
    "encoding": {
     "x": {"field": "name", "type": "nominal", "sort": null, "axis": null,
      "scale": {"domain": ["AUDCAD,H4","AUDJPY,H4","AUDCHF,H4","AUDUSD,H4","EURAUD,H4","EURCAD,H4","EURGBP,H4","EURJPY,H1","EURUSD,H4","GBPCHF,H4","GBPUSD,H4","NZDUSD,H4","USDCAD,H4","USDCHF,H4","USDJPY,H4","XAUUSD,H4","XAGUSD,H4"], "range": [3, 474], "paddingInner": 0, "paddingOuter": 0}},
     "text": {"field": "name"}
    }
   }
  ]
 }
]
}
